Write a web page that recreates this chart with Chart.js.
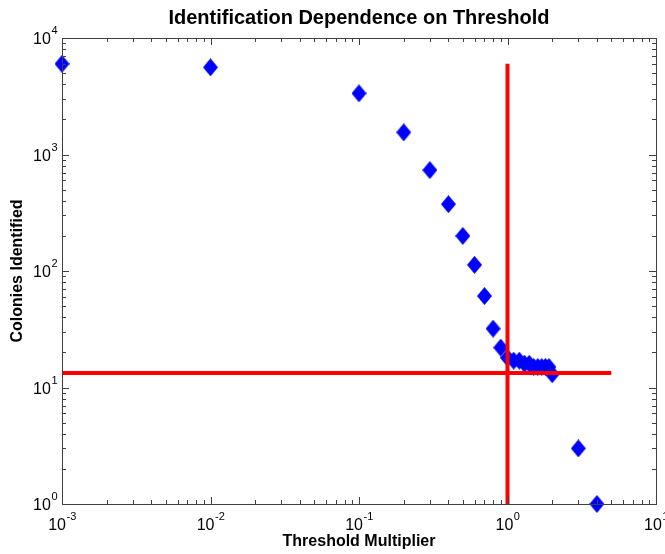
<!DOCTYPE html>
<html>
<head>
<meta charset="utf-8">
<script src="https://cdn.jsdelivr.net/npm/chart.js@4.4.0/dist/chart.umd.min.js"></script>
<style>
  body { margin: 0; background: #fff; }
  canvas { display: block; }
</style>
</head>
<body>
<canvas id="myChart" width="665" height="554"></canvas>
<script>
// data
const thresholds = [0.001, 0.01, 0.1, 0.2, 0.3, 0.4, 0.5, 0.6, 0.7, 0.8, 0.9,
                    1.0, 1.1, 1.2, 1.3, 1.4, 1.5, 1.6, 1.7, 1.8, 1.9, 2.0, 3, 4];
const colonies = [6000, 5600, 3350, 1550, 735, 375, 200, 113, 61, 32, 22,
                  18, 17, 17, 16, 16, 15, 15, 15, 15, 15, 13, 3, 1];

// red marker lines
const cutLevel = 13.3;
const cutRange = [0.001, 5];
const chosenThreshold = 1;
const chosenRange = [1, 6000];

// tick labels as powers of ten
const xTickExps = [-3, -2, -1, 0, 1];
const yTickExps = [0, 1, 2, 3, 4];

const fontFam = 'Arial, "Liberation Sans", Helvetica, sans-serif';

// matlab style diamond, a bit taller than wide
const diamond = document.createElement('canvas');
diamond.width = 15;
diamond.height = 18;
const dctx = diamond.getContext('2d');
dctx.fillStyle = '#0000ff';
dctx.beginPath();
dctx.moveTo(7.5, 0);
dctx.lineTo(15, 9);
dctx.lineTo(7.5, 18);
dctx.lineTo(0, 9);
dctx.closePath();
dctx.fill();

function drawPow(ctx, x, y, exp, side) {
  ctx.font = '16px ' + fontFam;
  const w1 = ctx.measureText('10').width;
  ctx.font = '11px ' + fontFam;
  const expTxt = String(exp);
  const w2 = ctx.measureText(expTxt).width;
  let start;
  if (side === 'bottom') start = x - (w1 + w2) / 2;
  else start = x - w1 - w2;
  ctx.textAlign = 'left';
  ctx.textBaseline = 'alphabetic';
  ctx.font = '16px ' + fontFam;
  ctx.fillText('10', start, y);
  ctx.font = '11px ' + fontFam;
  ctx.fillText(expTxt, start + w1 + 0.5, y - 10);
}

const axesBox = {
  id: 'axesBox',
  afterDraw(chart) {
    const ctx = chart.ctx;
    const a = chart.chartArea;
    const xs = chart.scales.x;
    const ys = chart.scales.y;
    ctx.save();
    ctx.strokeStyle = '#404040';
    ctx.lineWidth = 1;
    ctx.strokeRect(Math.round(a.left) + 0.5, Math.round(a.top) + 0.5,
                   Math.round(a.right - a.left), Math.round(a.bottom - a.top));

    ctx.beginPath();
    for (let i = 0; i < xTickExps.length; i++) {
      for (let k = 1; k <= 9; k++) {
        if (i === xTickExps.length - 1 && k > 1) break;
        const px = Math.round(xs.getPixelForValue(k * Math.pow(10, xTickExps[i]))) + 0.5;
        const len = k === 1 ? 7 : 4;
        ctx.moveTo(px, a.bottom); ctx.lineTo(px, a.bottom - len);
        ctx.moveTo(px, a.top); ctx.lineTo(px, a.top + len);
      }
    }
    for (let i = 0; i < yTickExps.length; i++) {
      for (let k = 1; k <= 9; k++) {
        if (i === yTickExps.length - 1 && k > 1) break;
        const py = Math.round(ys.getPixelForValue(k * Math.pow(10, yTickExps[i]))) + 0.5;
        const len = k === 1 ? 7 : 4;
        ctx.moveTo(a.left, py); ctx.lineTo(a.left + len, py);
        ctx.moveTo(a.right, py); ctx.lineTo(a.right - len, py);
      }
    }
    ctx.stroke();

    ctx.fillStyle = '#000';
    xTickExps.forEach(e => {
      drawPow(ctx, xs.getPixelForValue(Math.pow(10, e)), a.bottom + 26, e, 'bottom');
    });
    yTickExps.forEach(e => {
      drawPow(ctx, a.left - 5, ys.getPixelForValue(Math.pow(10, e)) + 6, e, 'left');
    });

    ctx.font = 'bold 20px ' + fontFam;
    ctx.textAlign = 'center';
    ctx.textBaseline = 'middle';
    ctx.fillText('Identification Dependence on Threshold', (a.left + a.right) / 2, 18);
    ctx.restore();
  }
};

const config = {
  type: 'scatter',
  data: {
    datasets: [
      {
        data: cutRange.map(v => ({ x: v, y: cutLevel })),
        showLine: true,
        borderColor: '#ff0000',
        borderWidth: 4,
        pointRadius: 0
      },
      {
        data: chosenRange.map(v => ({ x: chosenThreshold, y: v })),
        showLine: true,
        borderColor: '#ff0000',
        borderWidth: 4,
        pointRadius: 0
      },
      {
        data: thresholds.map((t, i) => ({ x: t, y: colonies[i] })),
        pointStyle: diamond,
        pointRadius: 9,
        backgroundColor: '#0000ff',
        borderWidth: 0,
        clip: false
      }
    ]
  },
  options: {
    responsive: false,
    animation: false,
    devicePixelRatio: 1,
    layout: { padding: { top: 38, right: 9, left: 0, bottom: 0 } },
    plugins: {
      legend: { display: false },
      tooltip: { enabled: false }
    },
    scales: {
      x: {
        type: 'logarithmic',
        min: 0.001,
        max: 10,
        grid: { display: false },
        border: { display: false },
        ticks: { display: false },
        title: {
          display: true,
          text: 'Threshold Multiplier',
          color: '#000',
          font: { family: fontFam, size: 16, weight: 'bold' },
          padding: { top: 0, bottom: 3 }
        },
        afterFit: s => { s.height = 50; }
      },
      y: {
        type: 'logarithmic',
        min: 1,
        max: 10000,
        grid: { display: false },
        border: { display: false },
        ticks: { display: false },
        title: {
          display: true,
          text: 'Colonies Identified',
          color: '#000',
          font: { family: fontFam, size: 16, weight: 'bold' },
          padding: { top: 8, bottom: 0 }
        },
        afterFit: s => { s.width = 62; }
      }
    }
  },
  plugins: [axesBox]
};

const myChart = new Chart(document.getElementById('myChart'), config);
</script>
</body>
</html>
